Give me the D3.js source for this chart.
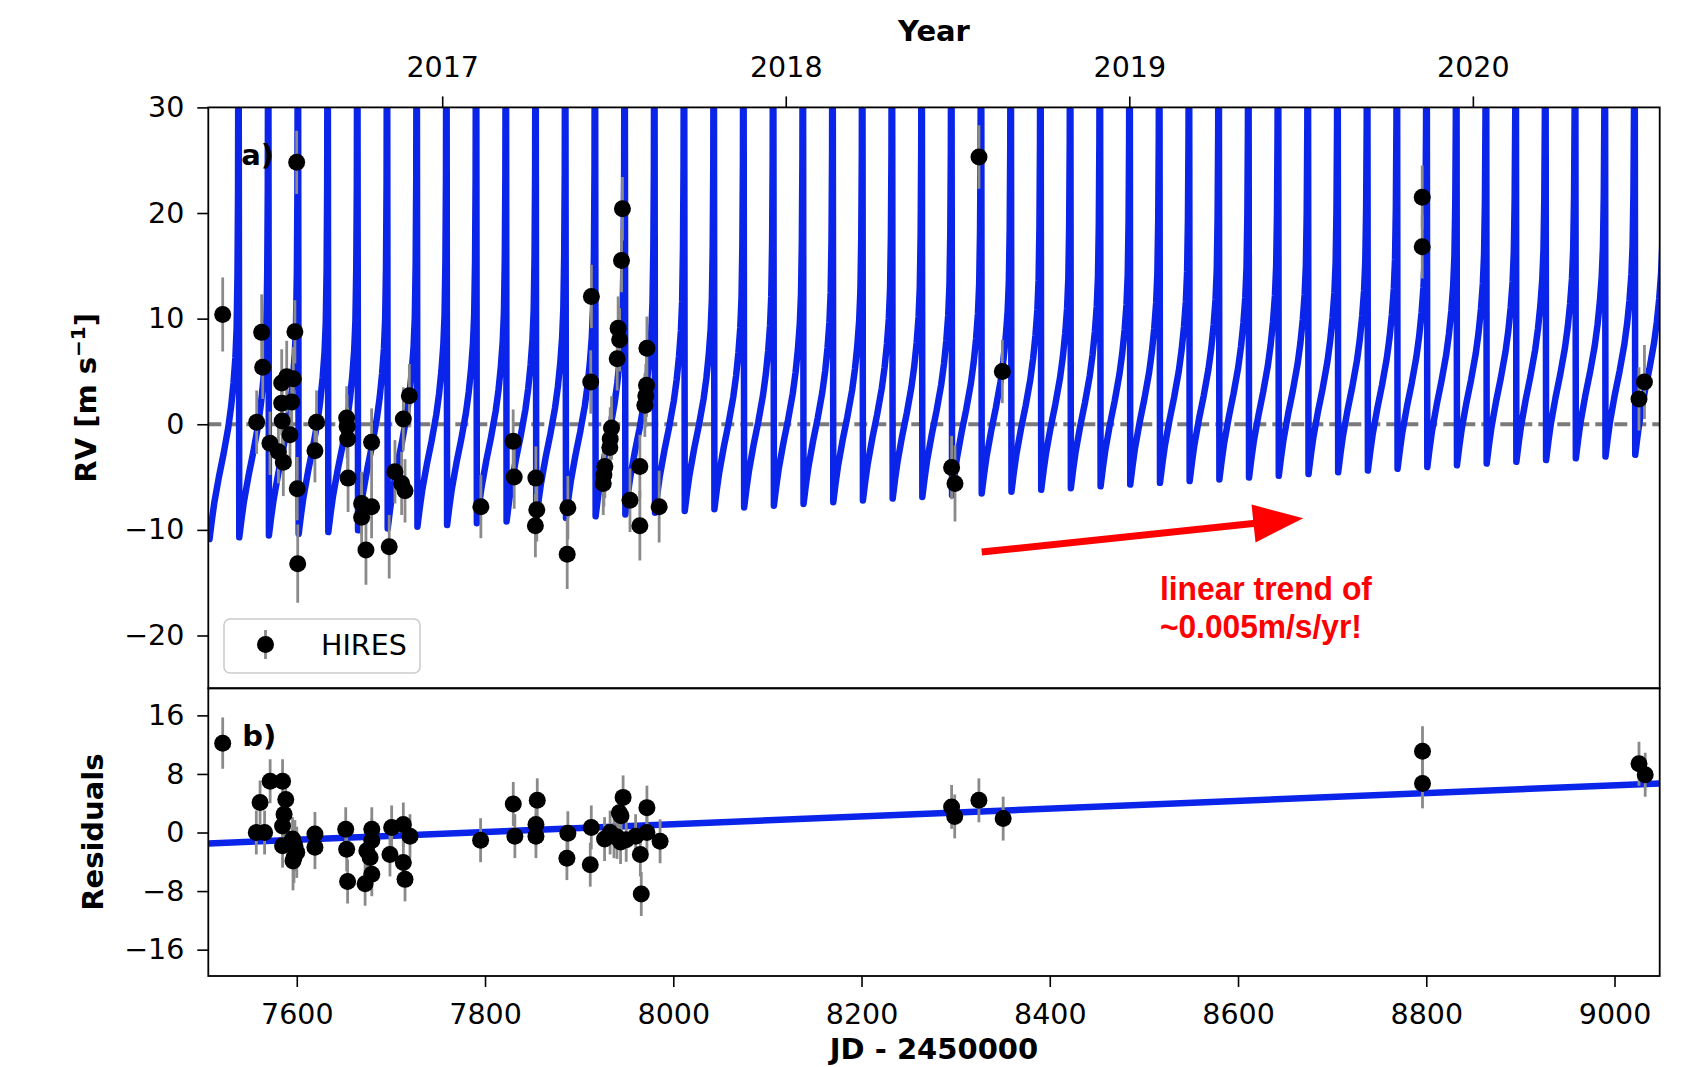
<!DOCTYPE html>
<html>
<head>
<meta charset="utf-8">
<script src="https://cdn.jsdelivr.net/npm/d3@7"></script>
<style>
  html, body { margin: 0; padding: 0; background: #ffffff; }
  svg { display: block; font-family: "DejaVu Sans", sans-serif; }
</style>
</head>
<body>
<svg id="chart" width="1701" height="1067"></svg>
<script>
// ---------------- HIRES radial velocities (JD - 2450000, m/s) ----------------
const hiresJD = [7521.3, 7557.4, 7562.7, 7563.8, 7571.5, 7584.0, 7584.0, 7584.5, 7580.5, 7585.7,
  7589.3, 7594.6, 7592.8, 7596.3, 7598.0, 7599.9, 7600.5, 7601.0, 7621.0, 7619.3,
  7653.0, 7653.5, 7654.0, 7654.5, 7679.5, 7668.9, 7679.5, 7668.9, 7673.5, 7698.2,
  7704.3, 7711.4, 7715.0, 7713.2, 7719.6, 7795.6, 7829.9, 7831.0, 7854.0, 7855.0,
  7853.5, 7888.0, 7887.3, 7913.0, 7912.3, 7946.0, 7945.0, 7941.4, 7943.0, 7940.4,
  7934.4, 7933.0, 7932.6, 7927.3, 7926.3, 7925.6, 7954.0, 7964.5, 7964.5, 7972.0,
  7971.6, 7970.8, 7969.8, 7985.0, 8295.7, 8299.3, 8324.8, 8349.6, 8795.7, 8795.7,
  9031.8, 9026.0];
const hiresRV = [10.4, 0.2, 8.7, 5.4, -1.8, 3.9, 2.0, 0.3, -2.6, -3.6,
  4.5, 2.1, -1.0, 4.3, 8.75, 24.8, -6.1, -13.2, 0.2, -2.5,
  0.6, -0.2, -1.4, -5.1, -1.7, -7.5, -7.8, -8.8, -11.9, -11.6,
  -4.5, -5.6, -6.3, 0.5, 2.7, -7.8, -1.6, -5.0, -5.1, -8.1,
  -9.6, -7.9, -12.3, 12.1, 4.0, 20.4, 15.5, 9.1, 8.0, 6.2,
  -0.35, -1.4, -2.2, -4.0, -4.8, -5.6, -7.2, -9.6, -4.0, 7.2,
  3.7, 2.7, 1.8, -7.8, -4.1, -5.6, 25.3, 5.0, 21.5, 16.8,
  4.0, 2.4];
const hiresErr = [3.5, 3.0, 3.6, 3.0, 3.0, 3.2, 3.0, 3.0, 3.0, 3.2,
  3.4, 3.0, 3.0, 3.0, 3.0, 3.0, 3.0, 3.7, 3.0, 3.0,
  3.0, 3.0, 3.0, 3.2, 3.2, 3.0, 3.0, 3.2, 3.3, 3.0,
  3.0, 3.0, 3.0, 3.0, 3.0, 3.0, 3.0, 3.0, 3.0, 3.0,
  3.0, 3.0, 3.3, 3.0, 3.0, 3.0, 3.0, 3.0, 3.0, 3.0,
  3.0, 3.0, 3.0, 3.0, 3.0, 3.0, 3.0, 3.3, 3.0, 3.0,
  3.0, 3.0, 3.0, 3.4, 3.0, 3.6, 3.0, 3.0, 3.0, 3.0,
  3.5, 3.0];

// ---------------- residuals after the single-planet fit ----------------
const residJD = [7521.3, 7561.0, 7557.0, 7565.8, 7571.7, 7584.9, 7588.3, 7586.5, 7584.9, 7584.9,
  7595.5, 7598.0, 7597.0, 7596.0, 7600.0, 7619.3, 7619.3, 7652.0, 7653.0, 7654.0,
  7679.7, 7679.7, 7674.4, 7677.9, 7679.7, 7672.6, 7700.8, 7713.2, 7720.3, 7699.0,
  7713.2, 7715.0, 7795.3, 7830.0, 7831.7, 7855.5, 7854.1, 7854.1, 7888.0, 7887.0,
  7912.9, 7911.8, 7946.7, 7942.7, 7944.5, 7932.9, 7937.0, 7940.2, 7944.0, 7927.0,
  7950.0, 7972.0, 7972.0, 7965.0, 7966.0, 7986.0, 7960.0, 8295.7, 8299.0, 8324.7,
  8350.5, 8796.0, 8796.0, 9026.0, 9032.6];
const residVal = [12.2, 4.1, 0.0, 0.0, 7.0, 7.0, 4.5, 2.5, 0.9, -1.8,
  -0.9, -1.8, -3.4, -3.9, -2.7, -0.2, -2.0, 0.45, -2.3, -6.7,
  0.45, -1.1, -2.5, -3.4, -5.7, -7.0, 0.7, 1.1, -0.5, -3.0,
  -4.1, -6.4, -1.05, 3.9, -0.5, 4.4, 1.1, -0.5, -0.1, -3.5,
  0.7, -4.4, 4.8, 2.7, 2.3, 0.0, -0.5, -0.6, -1.3, -0.9,
  -1.0, 3.4, 0.0, -3.0, -8.4, -1.2, -0.5, 3.5, 2.2, 4.4,
  1.9, 11.1, 6.7, 9.4, 7.9];
const residErr = [3.5, 3.0, 3.0, 3.0, 3.0, 3.0, 3.0, 3.0, 3.0, 3.0,
  3.0, 3.5, 3.5, 4.0, 3.5, 3.0, 3.0, 3.0, 3.0, 3.0,
  3.0, 3.0, 3.0, 3.0, 3.0, 3.0, 3.0, 3.0, 3.0, 3.0,
  3.0, 3.0, 3.0, 3.0, 3.0, 3.0, 3.0, 3.0, 3.0, 3.0,
  3.0, 3.0, 3.0, 3.0, 3.0, 3.0, 3.0, 3.0, 3.0, 3.0,
  3.0, 3.0, 3.0, 3.0, 3.0, 3.0, 3.0, 3.0, 3.0, 3.0,
  3.0, 3.4, 3.4, 3.0, 3.0];

// ---------------- orbit model: trough of every cycle plus one cycle's profile ----------------
const modelTroughJD = [7507.3, 7538.9, 7570.4, 7602.0, 7633.5, 7665.1, 7696.6, 7728.2, 7759.7, 7791.3,
  7822.9, 7854.4, 7886.0, 7917.5, 7949.1, 7980.6, 8012.2, 8043.7, 8075.3, 8106.9,
  8138.4, 8170.0, 8201.5, 8233.1, 8264.6, 8296.2, 8327.7, 8359.3, 8390.9, 8422.4,
  8454.0, 8485.5, 8517.1, 8548.6, 8580.2, 8611.7, 8643.3, 8674.9, 8706.4, 8738.0,
  8769.5, 8801.1, 8832.6, 8864.2, 8895.7, 8927.3, 8958.9, 8990.4, 9022.0];
const modelTroughRV = [-10.87, -10.70, -10.53, -10.37, -10.20, -10.04, -9.87, -9.70, -9.54, -9.37,
  -9.20, -9.04, -8.87, -8.71, -8.54, -8.37, -8.21, -8.04, -7.87, -7.71,
  -7.54, -7.38, -7.21, -7.04, -6.88, -6.71, -6.55, -6.38, -6.21, -6.05,
  -5.88, -5.71, -5.55, -5.38, -5.22, -5.05, -4.88, -4.72, -4.55, -4.39,
  -4.22, -4.05, -3.89, -3.72, -3.55, -3.39, -3.22, -3.06, -2.89];
// days after the trough, and rise above the trough (m/s), up to the periastron spike
const cycleDays = [0, 2.5, 5, 10, 15, 20, 23, 25.5, 27.5, 28.8, 29.7, 30.3, 30.8];
const cycleRise = [0, 1.8, 3.4, 5.9, 8.1, 10.6, 12.6, 14.8, 17.2, 20, 25, 33, 60];

// residual linear trend (end points)
const trendJD = [7506, 9048];
const trendRes = [-1.5, 6.7];

// ---------------- axis ticks ----------------
const jdTicks = [7600, 7800, 8000, 8200, 8400, 8600, 8800, 9000];
const rvTicks = [-20, -10, 0, 10, 20, 30];
const resTicks = [-16, -8, 0, 8, 16];
const yearLabels = ["2017", "2018", "2019", "2020"];
const yearJD = [7754.5, 8119.5, 8484.5, 8849.5];   // 1 January of each year

// ---------------- layout ----------------
const svg = d3.select("#chart");
svg.append("rect").attr("width", 1701).attr("height", 1067).attr("fill", "#fff");

const left = 208.3, right = 1659.7;
const top1 = 107.4, bot1 = 688.3, top2 = 688.3, bot2 = 976;
const tickFont = 28.5, labelFont = 29;
const blue = "#0b24ea", errGray = "#8a8a8a";

const x = d3.scaleLinear().domain([7506, 9048]).range([left, right]);
const yTop = d3.scaleLinear().domain([-25, 30]).range([bot1, top1]);
const yRes = d3.scaleLinear().domain([-19.6, 19.7]).range([bot2, top2]);

const minus = d => d < 0 ? "\u2212" + Math.abs(d) : String(d);

const defs = svg.append("defs");
defs.append("clipPath").attr("id", "clipTop").append("rect")
  .attr("x", left).attr("y", top1).attr("width", right - left).attr("height", bot1 - top1);
defs.append("clipPath").attr("id", "clipRes").append("rect")
  .attr("x", left).attr("y", top2).attr("width", right - left).attr("height", bot2 - top2);

// ---------------- panel a: RVs ----------------
const gA = svg.append("g").attr("clip-path", "url(#clipTop)");

gA.append("line")
  .attr("x1", left).attr("x2", right)
  .attr("y1", yTop(0)).attr("y2", yTop(0))
  .attr("stroke", "#7a7a7a").attr("stroke-width", 4)
  .attr("stroke-dasharray", "13 6");

const modelPts = [];
modelTroughJD.forEach((t, i) => {
  cycleDays.forEach((dt, j) => {
    modelPts.push({ jd: t + dt, rv: modelTroughRV[i] + cycleRise[j] });
  });
});
const rvLine = d3.line().x(d => x(d.jd)).y(d => yTop(d.rv));
gA.append("path").datum(modelPts)
  .attr("d", rvLine)
  .attr("fill", "none").attr("stroke", blue).attr("stroke-width", 6.5)
  .attr("stroke-linejoin", "round").attr("stroke-linecap", "round");

const hires = hiresJD.map((t, i) => ({ jd: t, v: hiresRV[i], e: hiresErr[i] }));
gA.append("g").selectAll("line").data(hires).join("line")
  .attr("x1", d => x(d.jd)).attr("x2", d => x(d.jd))
  .attr("y1", d => yTop(d.v - d.e)).attr("y2", d => yTop(d.v + d.e))
  .attr("stroke", errGray).attr("stroke-width", 2.8);
gA.append("g").selectAll("circle").data(hires).join("circle")
  .attr("cx", d => x(d.jd)).attr("cy", d => yTop(d.v)).attr("r", 8.5)
  .attr("fill", "#000");

// ---------------- panel b: residuals ----------------
const gB = svg.append("g").attr("clip-path", "url(#clipRes)");
const trend = trendJD.map((t, i) => ({ jd: t, r: trendRes[i] }));
gB.append("path").datum(trend)
  .attr("d", d3.line().x(d => x(d.jd)).y(d => yRes(d.r)))
  .attr("fill", "none").attr("stroke", blue).attr("stroke-width", 6.5);

const resid = residJD.map((t, i) => ({ jd: t, v: residVal[i], e: residErr[i] }));
gB.append("g").selectAll("line").data(resid).join("line")
  .attr("x1", d => x(d.jd)).attr("x2", d => x(d.jd))
  .attr("y1", d => yRes(d.v - d.e)).attr("y2", d => yRes(d.v + d.e))
  .attr("stroke", errGray).attr("stroke-width", 2.8);
gB.append("g").selectAll("circle").data(resid).join("circle")
  .attr("cx", d => x(d.jd)).attr("cy", d => yRes(d.v)).attr("r", 8.5)
  .attr("fill", "#000");

// ---------------- axes ----------------
function styleAxis(g) {
  g.select(".domain").remove();
  g.selectAll(".tick line").attr("stroke", "#000").attr("stroke-width", 1.6);
  g.selectAll(".tick text").attr("fill", "#000")
    .attr("font-family", "DejaVu Sans").attr("font-size", tickFont);
}

svg.append("g").attr("transform", `translate(0,${bot2})`)
  .call(d3.axisBottom(x).tickValues(jdTicks).tickFormat(d3.format("d"))
    .tickSize(11).tickPadding(17).tickSizeOuter(0))
  .call(styleAxis);

svg.append("g").attr("transform", `translate(0,${top1})`)
  .call(d3.axisTop(x).tickValues(yearJD).tickFormat((d, i) => yearLabels[i])
    .tickSize(11).tickPadding(19).tickSizeOuter(0))
  .call(styleAxis);

svg.append("g").attr("transform", `translate(${left},0)`)
  .call(d3.axisLeft(yTop).tickValues(rvTicks).tickFormat(minus)
    .tickSize(11).tickPadding(13).tickSizeOuter(0))
  .call(styleAxis);

svg.append("g").attr("transform", `translate(${left},0)`)
  .call(d3.axisLeft(yRes).tickValues(resTicks).tickFormat(minus)
    .tickSize(11).tickPadding(13).tickSizeOuter(0))
  .call(styleAxis);

// frames
[[top1, bot1], [top2, bot2]].forEach(([t, b]) => {
  svg.append("rect").attr("x", left).attr("y", t)
    .attr("width", right - left).attr("height", b - t)
    .attr("fill", "none").attr("stroke", "#000").attr("stroke-width", 1.8);
});

// ---------------- labels ----------------
const bold = sel => sel.attr("font-family", "DejaVu Sans").attr("font-weight", "bold")
  .attr("font-size", labelFont).attr("fill", "#000");

svg.append("text").attr("x", (left + right) / 2).attr("y", 41)
  .attr("text-anchor", "middle").text("Year").call(bold);
svg.append("text").attr("x", (left + right) / 2).attr("y", 1059)
  .attr("text-anchor", "middle").text("JD - 2450000").call(bold);

const rvLab = svg.append("text")
  .attr("transform", `translate(96,${(top1 + bot1) / 2}) rotate(-90)`)
  .attr("text-anchor", "middle").call(bold);
rvLab.append("tspan").text("RV [m s");
rvLab.append("tspan").attr("dy", -11).attr("font-size", 20).text("\u22121");
rvLab.append("tspan").attr("dy", 11).text("]");

svg.append("text")
  .attr("transform", `translate(103,${(top2 + bot2) / 2}) rotate(-90)`)
  .attr("text-anchor", "middle").text("Residuals").call(bold);

svg.append("text").attr("x", left + 33).attr("y", top1 + 58).text("a)").call(bold);
svg.append("text").attr("x", left + 34).attr("y", top2 + 58).text("b)").call(bold);

// ---------------- legend ----------------
const leg = svg.append("g");
leg.append("rect").attr("x", 224).attr("y", 619).attr("width", 196).attr("height", 54)
  .attr("rx", 6).attr("fill", "#fff").attr("fill-opacity", 0.85)
  .attr("stroke", "#cccccc").attr("stroke-width", 1.6);
leg.append("line").attr("x1", 265.5).attr("x2", 265.5).attr("y1", 630).attr("y2", 659)
  .attr("stroke", errGray).attr("stroke-width", 2.8);
leg.append("circle").attr("cx", 265.5).attr("cy", 644.5).attr("r", 8.5).attr("fill", "#000");
leg.append("text").attr("x", 321).attr("y", 654.5)
  .attr("font-family", "DejaVu Sans").attr("font-size", tickFont).attr("fill", "#000")
  .text("HIRES");

// ---------------- trend annotation ----------------
const arrowFrom = { jd: 8327.7, rv: -12.1 };
const arrowTo = { jd: 8669.3, rv: -8.9 };
const ax0 = x(arrowFrom.jd), ay0 = yTop(arrowFrom.rv);
const ax1 = x(arrowTo.jd), ay1 = yTop(arrowTo.rv);
const ang = Math.atan2(ay1 - ay0, ax1 - ax0);
const headLen = 50, headHalf = 19;
const bx = ax1 - headLen * Math.cos(ang), by = ay1 - headLen * Math.sin(ang);
svg.append("line").attr("x1", ax0).attr("y1", ay0).attr("x2", bx + 2 * Math.cos(ang)).attr("y2", by + 2 * Math.sin(ang))
  .attr("stroke", "#ff0000").attr("stroke-width", 7);
svg.append("path")
  .attr("d", `M${ax1},${ay1} L${bx - headHalf * Math.sin(ang)},${by + headHalf * Math.cos(ang)} L${bx + headHalf * Math.sin(ang)},${by - headHalf * Math.cos(ang)} Z`)
  .attr("fill", "#ff0000");

const noteStyle = sel => sel.attr("font-family", "Liberation Sans, Arial, sans-serif")
  .attr("font-weight", "bold").attr("font-size", 33).attr("fill", "#ff0000")
  .attr("lengthAdjust", "spacingAndGlyphs");
svg.append("text").attr("x", x(8517)).attr("y", 600).attr("textLength", 212)
  .text("linear trend of").call(noteStyle);
svg.append("text").attr("x", x(8517)).attr("y", 638).attr("textLength", 202)
  .text("~0.005m/s/yr!").call(noteStyle);
</script>
</body>
</html>
